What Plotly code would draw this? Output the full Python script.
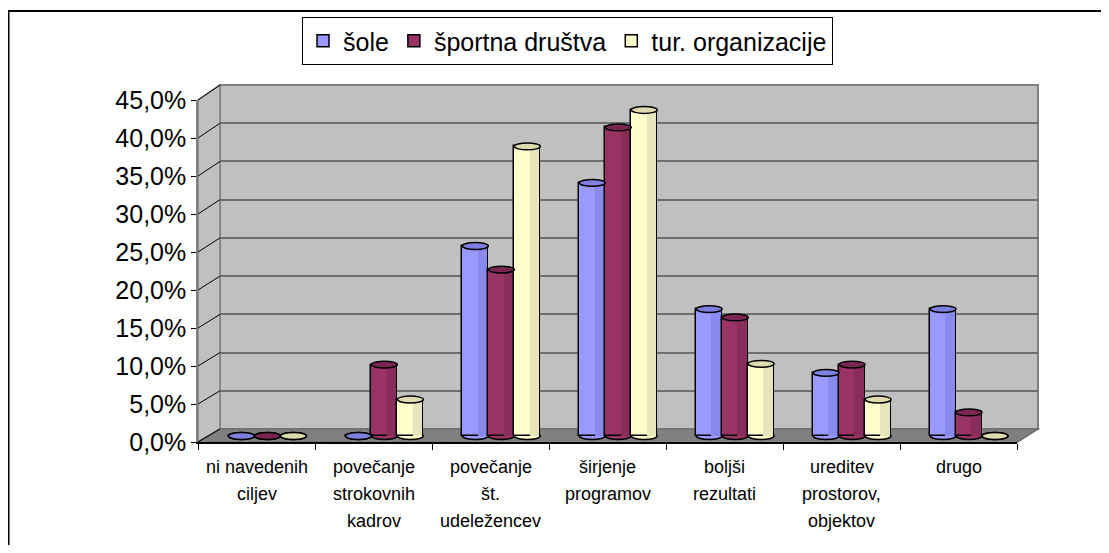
import plotly.graph_objects as go

# ---------------- data ----------------
categories = [
    "ni navedenih<br>ciljev",
    "povečanje<br>strokovnih<br>kadrov",
    "povečanje<br>št.<br>udeležencev",
    "širjenje<br>programov",
    "boljši<br>rezultati",
    "ureditev<br>prostorov,<br>objektov",
    "drugo",
]
series_names = ["šole", "športna društva", "tur. organizacije"]
sole = [0.0, 0.0, 25.0, 33.3, 16.7, 8.3, 16.7]
sportna_drustva = [0.0, 9.4, 21.9, 40.6, 15.6, 9.4, 3.1]
tur_organizacije = [0.0, 4.8, 38.1, 42.9, 9.5, 4.8, 0.0]
y_ticks = [0, 5, 10, 15, 20, 25, 30, 35, 40, 45]
y_tick_labels = ["0,0%", "5,0%", "10,0%", "15,0%", "20,0%",
                 "25,0%", "30,0%", "35,0%", "40,0%", "45,0%"]

# ---------------- styling ----------------
face_colors = ["#9999FF", "#993366", "#FFFFCC"]
dark_colors = ["#8A8AEE", "#882D5A", "#E6E6BA"]
top_colors = ["#7F7FE0", "#7A2650", "#DCDCAE"]
FONT = "Arial, Liberation Sans, sans-serif"

OFF = 8            # body margin of the page
W, H = 1093, 537   # figure size


def fx(px):
    return (px - OFF) / W


def fy(py):
    return 1 - (py - OFF) / H


YMAX = 45.0
# pixel geometry of the three planes (back wall, bar plane, front axis)
BACK_X0, BACK_X1, BACK_Y0, BACK_Y1 = 220, 1038, 429, 85
FRONT_X0, FRONT_X1, FRONT_Y0, FRONT_Y1 = 198, 1017, 442, 100
BAR_X0, BAR_X1 = 209, 1027.5
BAR_ZERO, BAR_PX_PER_UNIT = 436.0, 342 / 45
BAR_YMIN = -1.0
BW = 26 / 117      # bar width in category units
EH = 0.45          # half-height of cylinder cap (data units)

fig = go.Figure()

all_series = [sole, sportna_drustva, tur_organizacije]
for j, vals in enumerate(all_series):
    xs = [i + (j - 1) * BW for i in range(len(categories))]
    fig.add_trace(go.Bar(
        x=xs, y=vals, width=BW, name=series_names[j],
        marker=dict(color=face_colors[j], line=dict(color="black", width=1.5)),
        xaxis="x2", yaxis="y2", hoverinfo="skip",
    ))
    shade_w = BW * 0.42 - 1.2 / 117
    fig.add_trace(go.Bar(
        x=[x + BW / 2 - 1.0 / 117 - shade_w / 2 for x in xs], y=vals, width=shade_w,
        marker=dict(color=dark_colors[j], line=dict(width=0)),
        xaxis="x2", yaxis="y2", showlegend=False, hoverinfo="skip",
    ))

# empty traces so the other subplots exist
fig.add_trace(go.Scatter(x=[], y=[], xaxis="x", yaxis="y", showlegend=False))
fig.add_trace(go.Scatter(x=[], y=[], xaxis="x3", yaxis="y3", showlegend=False))

shapes = []
# outer chart border
shapes.append(dict(type="rect", xref="paper", yref="paper",
                   x0=fx(8.5), x1=1.2, y0=-0.2, y1=fy(11),
                   line=dict(color="black", width=2), layer="below"))
# back wall
shapes.append(dict(type="rect", xref="paper", yref="paper",
                   x0=fx(BACK_X0), x1=fx(BACK_X1), y0=fy(BACK_Y0), y1=fy(BACK_Y1),
                   fillcolor="#C0C0C0", line=dict(color="#808080", width=2), layer="below"))


def ppath(points):
    s = "M " + " L ".join(f"{fx(a):.5f},{fy(b):.5f}" for a, b in points) + " Z"
    return s


# side wall
shapes.append(dict(type="path", xref="paper", yref="paper",
                   path=ppath([(FRONT_X0, FRONT_Y1), (BACK_X0, BACK_Y1),
                               (BACK_X0, BACK_Y0), (FRONT_X0, FRONT_Y0)]),
                   fillcolor="#C0C0C0", line=dict(color="#808080", width=1.5), layer="below"))
# floor
shapes.append(dict(type="path", xref="paper", yref="paper",
                   path=ppath([(FRONT_X0, FRONT_Y0), (BACK_X0, BACK_Y0),
                               (BACK_X1, BACK_Y0), (FRONT_X1 - 1, FRONT_Y0 + 1)]),
                   fillcolor="#808080", line=dict(color="#6E6E6E", width=1.5), layer="below"))
# diagonal gridlines on side wall
for v in y_ticks:
    yf = FRONT_Y0 - (FRONT_Y0 - FRONT_Y1) * v / YMAX
    yb = BACK_Y0 - (BACK_Y0 - BACK_Y1) * v / YMAX
    shapes.append(dict(type="line", xref="paper", yref="paper",
                       x0=fx(FRONT_X0), y0=fy(yf), x1=fx(BACK_X0), y1=fy(yb),
                       line=dict(color="black", width=1), layer="below"))
# cylinder bottoms and tops
for j, vals in enumerate(all_series):
    for i, v in enumerate(vals):
        xc = i + (j - 1) * BW
        shapes.append(dict(type="circle", xref="x2", yref="y2",
                           x0=xc - BW / 2, x1=xc + BW / 2, y0=-EH, y1=EH,
                           fillcolor=face_colors[j], line=dict(color="black", width=1.5),
                           layer="below"))
for j, vals in enumerate(all_series):
    for i, v in enumerate(vals):
        xc = i + (j - 1) * BW
        shapes.append(dict(type="circle", xref="x2", yref="y2",
                           x0=xc - BW / 2, x1=xc + BW / 2, y0=v - EH, y1=v + EH,
                           fillcolor=top_colors[j], line=dict(color="black", width=1.5),
                           layer="above"))

annotations = []
for i, lab in enumerate(categories):
    for k, line in enumerate(lab.split("<br>")):
        annotations.append(dict(x=i, xref="x3", y=fy(467 + 27 * k), yref="paper",
                                text=line, showarrow=False, xanchor="center", yanchor="middle",
                                font=dict(family=FONT, size=18, color="black")))

bar_y_top = BAR_ZERO - BAR_PX_PER_UNIT * YMAX
bar_y_bot = BAR_ZERO - BAR_PX_PER_UNIT * BAR_YMIN

fig.update_layout(
    width=W, height=H,
    margin=dict(l=0, r=0, t=0, b=0, pad=0, autoexpand=False),
    paper_bgcolor="white", plot_bgcolor="rgba(0,0,0,0)",
    separators=",.",
    barmode="overlay",
    bargap=0,
    font=dict(family=FONT, color="black"),
    showlegend=True,
    legend=dict(orientation="h", x=fx(302), y=fy(17), xanchor="left", yanchor="top",
                bordercolor="black", borderwidth=1, bgcolor="white",
                font=dict(family=FONT, size=25, color="black"), traceorder="normal"),
    # back wall subplot
    xaxis=dict(domain=[fx(BACK_X0), fx(BACK_X1)], range=[0, 1], visible=False, anchor="y"),
    yaxis=dict(domain=[fy(BACK_Y0), fy(BACK_Y1)], range=[0, YMAX], tickvals=y_ticks,
               showgrid=True, gridcolor="#6E6E6E", gridwidth=2, showticklabels=False,
               ticks="", zeroline=False, showline=False, anchor="x"),
    # bar plane subplot
    xaxis2=dict(domain=[fx(BAR_X0), fx(BAR_X1)], range=[-0.5, 6.5], visible=False, anchor="y2"),
    yaxis2=dict(domain=[fy(bar_y_bot), fy(bar_y_top)], range=[BAR_YMIN, YMAX], visible=False,
                anchor="x2"),
    # front axis subplot
    xaxis3=dict(domain=[fx(FRONT_X0), fx(FRONT_X1)], range=[-0.5, 6.5],
                tickvals=[k - 0.5 for k in range(len(categories) + 1)],
                ticks="outside", ticklen=6, tickcolor="black", tickwidth=1,
                showticklabels=False, showline=True, linecolor="black", linewidth=2,
                showgrid=False, zeroline=False, anchor="y3"),
    yaxis3=dict(domain=[fy(FRONT_Y0), fy(FRONT_Y1)], range=[0, YMAX], tickvals=y_ticks,
                ticktext=y_tick_labels, ticks="outside", ticklen=5,
                tickcolor="black", tickwidth=1, showline=True, linecolor="#808080",
                linewidth=1.5, showgrid=False, zeroline=False, anchor="x3", automargin=False,
                tickfont=dict(family=FONT, size=25, color="black")),
    shapes=shapes,
    annotations=annotations,
)

fig.write_html("out.html")
